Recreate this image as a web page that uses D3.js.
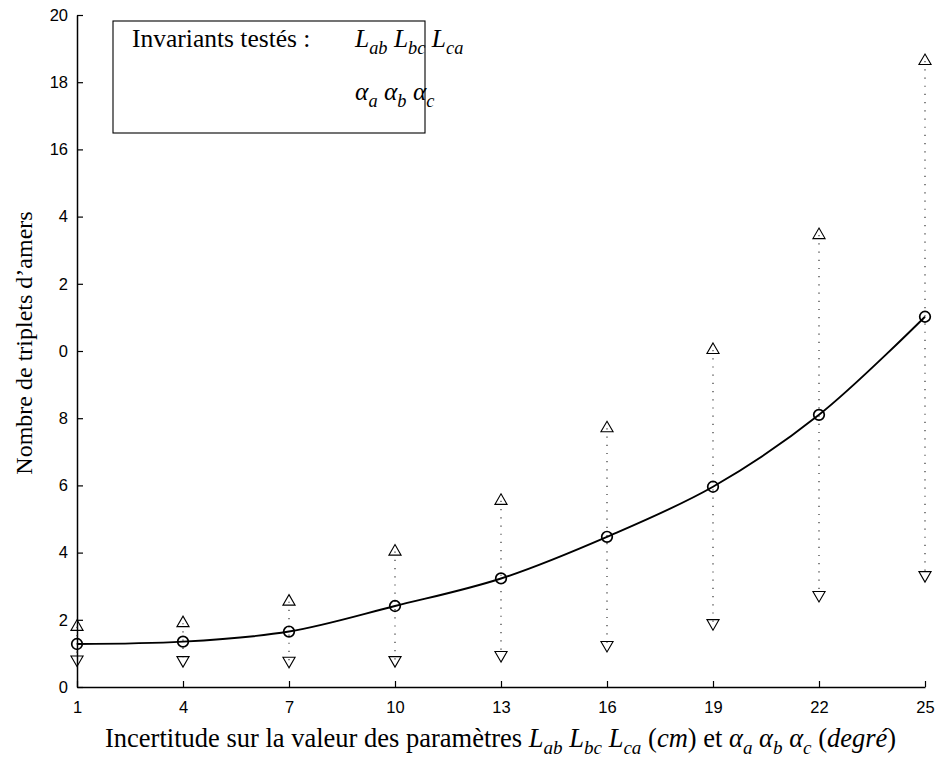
<!DOCTYPE html>
<html>
<head>
<meta charset="utf-8">
<script src="https://cdn.jsdelivr.net/npm/d3@7"></script>
<style>
  html, body { margin: 0; padding: 0; background: #fff; }
  svg { display: block; }
</style>
</head>
<body>
<svg id="chart" width="939" height="758"></svg>
<script>
// ---- data ----
const xValues = [1, 4, 7, 10, 13, 16, 19, 22, 25];
const meanValues = [1.28, 1.35, 1.65, 2.41, 3.23, 4.47, 5.96, 8.10, 11.02];
const upperValues = [1.79, 1.90, 2.54, 4.03, 5.54, 7.70, 10.03, 13.45, 18.63];
const lowerValues = [0.82, 0.80, 0.78, 0.80, 0.95, 1.25, 1.90, 2.74, 3.33];
const xTicks = [1, 4, 7, 10, 13, 16, 19, 22, 25];
const yTicks = [0, 2, 4, 6, 8, 10, 12, 14, 16, 18, 20];
const yTickLabels = ["0", "2", "4", "6", "8", "0", "2", "4", "16", "18", "20"];
const yTitle = "Nombre de triplets d\u2019amers";

const svg = d3.select("#chart");
const serif = "'Liberation Serif', 'Times New Roman', serif";
const sans = "'Liberation Sans', Arial, sans-serif";

const x = d3.scaleLinear().domain([1, 25]).range([77, 925]);
const y = d3.scaleLinear().domain([0, 20]).range([687, 15]);

// axes
const gx = svg.append("g").attr("transform", `translate(0,${y(0)})`)
  .call(d3.axisBottom(x).tickValues(xTicks).tickSize(-6).tickSizeOuter(0).tickPadding(14).tickFormat(d3.format("d")));
const gy = svg.append("g").attr("transform", `translate(${x(1)},0)`)
  .call(d3.axisLeft(y).tickValues(yTicks).tickSize(-6).tickSizeOuter(0).tickPadding(9)
    .tickFormat((d, i) => yTickLabels[i]));
[gx, gy].forEach(g => {
  g.select(".domain").attr("stroke", "#000").attr("stroke-width", 1.5);
  g.selectAll(".tick line").attr("stroke", "#000").attr("stroke-width", 1.2);
  g.selectAll(".tick text").attr("fill", "#000").style("font-family", sans).style("font-size", "16.5px");
});

// dotted ranges
const idx = d3.range(xValues.length);
svg.append("g").selectAll("line").data(idx).join("line")
  .attr("x1", i => x(xValues[i])).attr("x2", i => x(xValues[i]))
  .attr("y1", i => y(upperValues[i])).attr("y2", i => y(lowerValues[i]))
  .attr("stroke", "#222").attr("stroke-width", 1.1).attr("stroke-dasharray", "1.2,7");

// mean curve
const line = d3.line().x(i => x(xValues[i])).y(i => y(meanValues[i])).curve(d3.curveCatmullRom.alpha(0.5));
svg.append("path").datum(idx).attr("d", line)
  .attr("fill", "none").attr("stroke", "#000").attr("stroke-width", 1.9);

// markers
const triUp = d3.symbol().type(d3.symbolTriangle).size(64);
svg.append("g").selectAll("path").data(idx).join("path")
  .attr("d", triUp)
  .attr("transform", i => `translate(${x(xValues[i])},${y(upperValues[i])})`)
  .attr("fill", "none").attr("stroke", "#000").attr("stroke-width", 1.1);
svg.append("g").selectAll("path").data(idx).join("path")
  .attr("d", triUp)
  .attr("transform", i => `translate(${x(xValues[i])},${y(lowerValues[i])}) rotate(180)`)
  .attr("fill", "none").attr("stroke", "#000").attr("stroke-width", 1.1);
svg.append("g").selectAll("circle").data(idx).join("circle")
  .attr("cx", i => x(xValues[i])).attr("cy", i => y(meanValues[i])).attr("r", 5.3)
  .attr("fill", "none").attr("stroke", "#000").attr("stroke-width", 1.7);

// rich text helper: segments [text, italic, sub]
function rich(textSel, segs, size) {
  const subShift = size * 0.28;
  let down = false;
  segs.forEach(([t, it, sub]) => {
    const ts = textSel.append("tspan").text(t);
    if (it) ts.style("font-style", "italic");
    if (sub) ts.style("font-size", (size * 0.72) + "px");
    if (sub && !down) { ts.attr("dy", subShift); down = true; }
    else if (!sub && down) { ts.attr("dy", -subShift); down = false; }
  });
}
const Lsegs = [["L", 1, 0], ["ab", 1, 1], [" ", 0, 0], ["L", 1, 0], ["bc", 1, 1], [" ", 0, 0], ["L", 1, 0], ["ca", 1, 1]];
const Asegs = [["\u03b1", 1, 0], ["a", 1, 1], [" ", 0, 0], ["\u03b1", 1, 0], ["b", 1, 1], [" ", 0, 0], ["\u03b1", 1, 0], ["c", 1, 1]];

// legend box
svg.append("rect").attr("x", 113).attr("y", 21).attr("width", 312).attr("height", 112)
  .attr("fill", "#fff").attr("stroke", "#000").attr("stroke-width", 1.1);
svg.append("text").attr("x", 132).attr("y", 47).style("font-family", serif).style("font-size", "25.5px")
  .text("Invariants test\u00e9s :");
const tL = svg.append("text").attr("x", 355).attr("y", 47).style("font-family", serif).style("font-size", "25.5px");
rich(tL, Lsegs, 25.5);
const tA = svg.append("text").attr("x", 355).attr("y", 100).style("font-family", serif).style("font-size", "25.5px");
rich(tA, Asegs, 25.5);

// y title
svg.append("text").attr("transform", "translate(32,343) rotate(-90)").attr("text-anchor", "middle")
  .style("font-family", serif).style("font-size", "24px").text(yTitle);

// x title
const xt = svg.append("text").attr("x", 105).attr("y", 747).style("font-family", serif).style("font-size", "26.5px");
rich(xt, [["Incertitude sur la valeur des param\u00e8tres ", 0, 0], ...Lsegs, [" (", 0, 0], ["cm", 1, 0], [") et ", 0, 0],
  ...Asegs, [" (", 0, 0], ["degr\u00e9", 1, 0], [")", 0, 0]], 26.5);
</script>
</body>
</html>
